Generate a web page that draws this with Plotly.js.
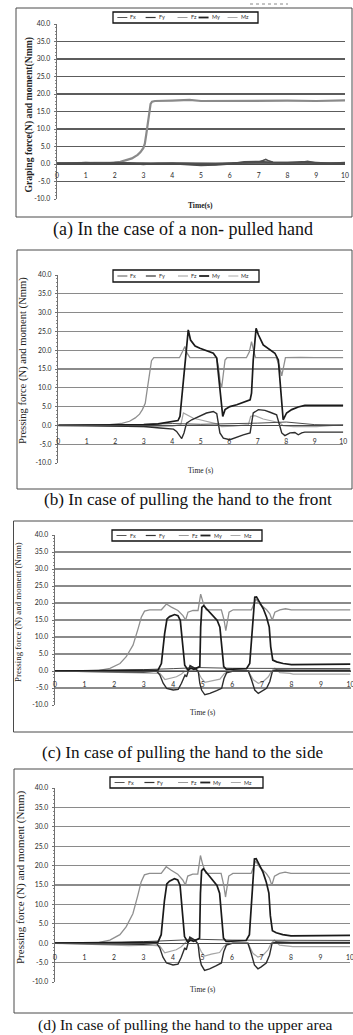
<!DOCTYPE html>
<html>
<head>
<meta charset="utf-8">
<script src="https://cdn.plot.ly/plotly-3.0.1.min.js"></script>
<style>
html,body{margin:0;padding:0;background:#ffffff;overflow:hidden;}
#chart{width:353px;height:1035px;}
</style>
</head>
<body>
<div id="chart"></div>
<script>
// ---------- shared labels ----------
const seriesNames = ['Fx','Fy','Fz','My','Mz'];
const xTickVals = [0,1,2,3,4,5,6,7,8,9,10];
const xTickLabels = ['0','1','2','3','4','5','6','7','8','9','10'];
const yTickVals = [-10,-5,0,5,10,15,20,25,30,35,40];
const yTickLabels = ['-10.0','-5.0','0.0','5.0','10.0','15.0','20.0','25.0','30.0','35.0','40.0'];
const yTitles = ['Graping force(N) and moment(Nmm)','Pressing force (N) and moment (Nmm)','Pressing force (N) and moment (Nmm)','Pressing force (N) and moment (Nmm)'];
const xTitles = ['Time(s)','Time (s)','Time (s)','Time (s)'];
const captions = ['(a) In the case of a non- pulled hand','(b) In case of pulling the hand to the front','(c) In case of pulling the hand to the side','(d) In case of pulling the hand to the upper area'];

// ---------- panel (a): non-pulled hand ----------
const aFxT = [0,0.5,1,1.5,2,2.5,3,3.5,4,4.5,5,5.5,6,6.5,7,7.5,8,8.5,9,9.5,10];
const aFxV = [0.3,0.2,0.4,0.2,0.3,0.1,0.2,0.3,0.2,0.1,0.0,-0.1,0.2,0.4,0.5,0.3,0.2,0.4,0.2,0.3,0.2];
const aFyT = [0,0.5,1,1.5,2,2.5,3,3.5,4,4.5,5,5.5,6,6.5,7,7.5,8,8.5,9,9.5,10];
const aFyV = [0.1,0.3,0.2,0.3,0.1,0.2,-0.1,0.2,0.1,-0.2,-0.4,-0.3,0.0,0.6,0.7,0.5,0.4,0.6,0.3,0.2,0.3];
const aFzT = [0,0.5,1,1.5,2,2.2,2.4,2.6,2.8,2.9,3.0,3.05,3.1,3.15,3.2,3.25,3.3,3.4,4,4.6,5,6,7,8,9,10];
const aFzV = [0.2,0.2,0.3,0.2,0.4,0.6,1.0,1.6,2.6,3.4,4.6,5.8,8.5,12,15.5,17.2,17.8,18,18.1,18.3,18,18.1,18,18.1,18,18.2];
const aMyT = [0,0.5,1,1.5,2,2.5,3,3.5,4,4.5,5,5.5,6,6.5,7,7.15,7.25,7.35,7.5,8,8.5,8.7,8.9,9,9.5,10];
const aMyV = [0.2,0.1,0.3,0.2,0.4,0.3,0.2,0.1,0.3,0.2,0.1,0.2,0.3,0.5,0.6,1.0,1.3,0.9,0.5,0.4,0.5,0.8,0.5,0.3,0.2,0.4];
const aMzT = [0,1,2,3,4,5,6,7,8,9,10];
const aMzV = [0.0,0.1,-0.1,0.0,0.1,-0.2,0.0,0.1,0.0,0.1,0.0];

// ---------- panel (b): pulled to the front ----------
const bFxT = [0,1,2,3,4,5,6,7,8,8.5,9,10];
const bFxV = [0,0.1,0,0.3,0.5,0.3,0.4,0.6,0.9,0.5,0.2,0.1];
const bFyT = [0,1,2,3,3.5,4.0,4.2,4.27,4.33,4.39,4.45,4.5,4.56,4.64,4.8,4.97,5.2,5.44,5.56,5.62,5.67,5.72,5.77,5.85,6.02,6.26,6.49,6.73,6.78,6.84,6.94,7.02,7.19,7.43,7.6,7.72,7.78,7.84,7.89,8.01,8.19,8.42,8.54,8.65,9,10];
const bFyV = [0,0,0.1,0.2,0.4,1.0,1.3,2.4,7,13,17,20.5,25.4,22.7,21.1,20.5,19.9,19.2,17.9,13,8.6,5,2.4,4.2,5.0,5.5,6.1,6.8,8.6,17.4,25.8,24.1,21.4,20.1,19.2,17.4,12,6.8,1.5,3.3,4.2,4.9,5.2,5.3,5.3,5.3];
const bFzT = [0,1,1.8,2.2,2.5,2.7,2.85,2.95,3.05,3.1,3.16,3.22,3.27,3.35,3.45,4.25,4.35,4.44,4.52,4.62,5.55,5.62,5.68,5.73,5.78,5.85,5.92,6.6,6.7,6.78,6.85,6.92,7.65,7.75,7.84,7.9,7.97,8.5,9,10];
const bFzV = [0,0.1,0.2,0.5,1.1,2.0,3.0,4.2,5.9,8.5,12,15,17.2,18,18,18,19.5,21,19.2,18,18,15.5,11.5,10,13,17.4,18,18,19.5,22.3,20,18,18,16,13.2,15.5,18,18.1,18,18];
const bMyT = [0,2,3,3.57,4.04,4.15,4.27,4.33,4.41,4.5,4.68,4.97,5.2,5.44,5.56,5.67,5.79,6.02,6.26,6.49,6.73,6.84,7.02,7.25,7.43,7.66,7.84,7.95,8.13,8.3,8.42,8.54,8.65,10];
const bMyV = [0,-0.1,-0.3,-0.7,-1.0,-1.6,-2.9,-3.5,-2.0,0.6,1.5,2.4,3.3,3.7,3.1,-2.0,-3.4,-3.8,-3.1,-2.5,-2.0,3.3,4.2,4.0,3.5,2.8,-2.0,-2.7,-2.0,-1.9,-2.5,-2.0,-1.8,-1.8];
const bMzT = [0,2,3,4.0,4.3,4.39,4.5,4.74,4.97,5.32,5.56,5.73,6.14,6.67,6.75,6.9,7.19,7.54,7.78,7.89,8.25,9.06,10];
const bMzV = [0,-0.2,-0.3,-0.2,0.2,3.3,2.8,1.9,1.5,0.8,0.4,-0.3,-0.2,0.2,2.4,2.6,1.7,1.1,0.6,-0.1,-0.3,-0.3,0.2];

// ---------- panel (c): pulled to the side ----------
const cFxT = [0,1,2,3,4,4.9,6,7,8,10];
const cFxV = [0,0.1,0.1,0.4,0.7,1.0,0.8,0.8,0.7,0.7];
const cFyT = [0,1,2,3,3.49,3.6,3.71,3.79,3.88,4.05,4.16,4.24,4.31,4.39,4.5,4.6,4.7,4.9,4.93,4.97,5.03,5.18,5.35,5.49,5.58,5.63,5.71,5.8,6.48,6.59,6.68,6.76,6.82,6.93,7.05,7.16,7.25,7.3,7.37,7.5,7.72,8.0,10];
const cFyV = [0,0.1,0.2,0.3,0.3,2.2,11,15.3,16,16.6,16.3,14.9,8.1,1.7,0.3,0.8,0.5,1.3,12.9,18.7,19.2,17.8,16.3,14.9,12.9,8.1,1.3,0.5,0.7,2.2,12.9,21.7,21.8,20.2,18.3,15.8,12.9,7.1,3.2,2.7,2.2,1.9,2.0];
const cFzT = [0,1,1.5,1.86,2.09,2.2,2.41,2.64,2.81,2.92,3.03,3.2,3.6,3.77,3.94,4.16,4.33,4.42,4.5,4.67,4.84,4.93,5.01,5.12,5.63,5.72,5.78,5.89,6.03,6.65,6.8,6.93,7.16,7.27,7.35,7.44,7.61,7.8,8.0,9,10];
const cFzV = [0,0.1,0.2,0.8,1.8,2.2,4.2,7.6,12.4,15.8,17.6,18,18,19.7,18.8,17.8,16.3,15,17.3,17.8,17.8,22.6,20.2,18,18,15,11.9,17.3,18,18,21.2,19.7,18,16.8,14.9,17.3,18,18.3,18,18,18];
const cMyT = [0,2,3,3.44,3.55,3.66,3.78,4.0,4.17,4.28,4.4,4.45,4.57,4.74,4.85,4.9,4.96,5.07,5.24,5.47,5.64,5.72,5.81,6.03,6.54,6.65,6.76,6.88,6.99,7.16,7.27,7.36,7.5,8,10];
const cMyV = [0,-0.2,-0.3,0,-1.2,-3.6,-5.1,-5.6,-5.4,-3.6,-1.2,-1.7,1.6,0.8,-0.2,-3.6,-5.6,-7.0,-6.6,-5.8,-5.1,-2.2,-0.5,0,0,-2.6,-5.6,-6.6,-6.1,-5.1,-3.1,0,0.3,0.2,0.2];
const cMzT = [0,1.8,2.5,3.2,3.55,3.72,3.89,4.11,4.28,4.45,4.57,4.79,4.96,5.07,5.3,5.58,5.72,5.86,6.54,6.71,6.88,7.05,7.22,7.33,7.44,7.61,7.95,8.06,10];
const cMzV = [0,-0.3,-0.6,-0.5,-0.7,-2.5,-2.2,-1.7,-0.9,0.5,1.3,0.5,-2.2,-3.3,-2.8,-2.4,-0.9,0,0,-2.6,-3.6,-3.1,-1.7,0,0.8,-0.5,-0.7,-0.9,-0.9];

// ---------- panel (d): pulled to the upper area (same record as (c)) ----------
const dFxT = cFxT, dFxV = cFxV, dFyT = cFyT, dFyV = cFyV, dFzT = cFzT, dFzV = cFzV;
const dMyT = cMyT, dMyV = cMyV, dMzT = cMzT, dMzV = cMzV;

const panelSeries = [
  {Fx:[aFxT,aFxV], Fy:[aFyT,aFyV], Fz:[aFzT,aFzV], My:[aMyT,aMyV], Mz:[aMzT,aMzV]},
  {Fx:[bFxT,bFxV], Fy:[bFyT,bFyV], Fz:[bFzT,bFzV], My:[bMyT,bMyV], Mz:[bMzT,bMzV]},
  {Fx:[cFxT,cFxV], Fy:[cFyT,cFyV], Fz:[cFzT,cFzV], My:[cMyT,cMyV], Mz:[cMzT,cMzV]},
  {Fx:[dFxT,dFxV], Fy:[dFyT,dFyV], Fz:[dFzT,dFzV], My:[dMyT,dMyV], Mz:[dMzT,dMzV]}
];

// ---------- geometry (pixels) ----------
const W = 353, H = 1035;
const PX = v => v / W, PY = v => 1 - v / H;
const geo = [
  {frame:[16,352,8,217],    x0:57,   x1:345,   y40:24,    ym10:199,   leg:[113,258,12,23],  ytX:28, ytS:9.7, bold:true,  xtY:205,   xtS:7.5, capY:229,  capX:183,   capS:18,   grid:'#5c5c5c', gw:1.3, xls:5},
  {frame:[17,352,250,489],  x0:58.3, x1:343.3, y40:275,   ym10:463,   leg:[113,259,270,282],ytX:23, ytS:10.6,bold:false, xtY:470.7, xtS:7.5, capY:499,  capX:188,   capS:17.2, grid:'#8a8a8a', gw:1.2, xls:9},
  {frame:[13.5,360,521,732],x0:55,   x1:350.5, y40:535,   ym10:705,   leg:[112,262,530,541],ytX:18, ytS:8.9, bold:false, xtY:712.7, xtS:7.5, capY:752,  capX:182.5, capS:17.2, grid:'#8a8a8a', gw:1.2, xls:7},
  {frame:[14,360,769,1013], x0:55,   x1:350,   y40:788,   ym10:982,   leg:[110,263,777,788],ytX:20, ytS:11,  bold:false, xtY:989,   xtS:7.5, capY:1025, capX:185.5, capS:15.5, grid:'#8a8a8a', gw:1.2, xls:8}
];

const styleA = {Fx:{c:'#575757',w:1.6}, Fy:{c:'#4c4c4c',w:1.6}, Fz:{c:'#8a8a8a',w:2.2}, My:{c:'#505050',w:1.6}, Mz:{c:'#666666',w:1.4}};
const styleN = {Fx:{c:'#4d4d4d',w:1.0}, Fy:{c:'#1a1a1a',w:1.7}, Fz:{c:'#8f8f8f',w:1.3}, My:{c:'#2d2d2d',w:1.4}, Mz:{c:'#a5a5a5',w:1.2}};
const legendStyle = {Fx:{c:'#555555',w:1}, Fy:{c:'#333333',w:1.2}, Fz:{c:'#9a9a9a',w:1}, My:{c:'#222222',w:1.8}, Mz:{c:'#aaaaaa',w:1}};
const legendOffsets = [0.03, 0.225, 0.445, 0.59, 0.79];
const drawOrder = ['Fz','Mz','Fx','My','Fy'];

const traces = [];
const layout = {
  width: W, height: H, autosize: false,
  margin: {l:0, r:0, t:0, b:0, pad:0},
  paper_bgcolor: '#ffffff', plot_bgcolor: 'rgba(0,0,0,0)',
  showlegend: false, shapes: [], annotations: []
};
const tickFont = {family:'Lato, "Liberation Sans", sans-serif', size:6.8, color:'#2a2a2a'};
const serif = 'Liberation Serif, "Times New Roman", serif';

geo.forEach((g, i) => {
  const s = i === 0 ? '' : String(i + 1);
  const zeroPx = g.y40 + 40 * (g.ym10 - g.y40) / 50;
  const st = i === 0 ? styleA : styleN;

  layout['xaxis' + s] = {
    domain: [PX(g.x0), PX(g.x1)], range: [0, 10], anchor: 'free', position: PY(zeroPx),
    tickmode: 'array', tickvals: xTickVals, ticktext: xTickLabels, tickfont: tickFont,
    ticks: '', ticklabelstandoff: g.xls, ticklabeloverflow: 'allow', showgrid: false, zeroline: false,
    showline: true, linecolor: '#4a4a4a', linewidth: 1, fixedrange: true, automargin: false
  };
  layout['yaxis' + s] = {
    domain: [PY(g.ym10), PY(g.y40)], range: [-10, 40], anchor: 'x' + s,
    tickmode: 'array', tickvals: yTickVals, ticktext: yTickLabels, tickfont: tickFont,
    ticks: 'outside', ticklen: 2.5, tickcolor: '#707070', ticklabelstandoff: 2,
    minor: {ticks: 'outside', ticklen: 1.5, dtick: 1, tick0: 0, tickcolor: '#8a8a8a', showgrid: false},
    showgrid: true, gridcolor: g.grid, gridwidth: g.gw, zeroline: false,
    showline: true, linecolor: '#707070', linewidth: 1, fixedrange: true, automargin: false
  };

  drawOrder.forEach(name => {
    const d = panelSeries[i][name];
    traces.push({
      type: 'scatter', mode: 'lines', name: name, x: d[0], y: d[1],
      xaxis: 'x' + s, yaxis: 'y' + s, hoverinfo: 'skip', showlegend: false,
      line: {color: st[name].c, width: st[name].w, shape: 'linear'}
    });
  });

  // outer frame
  layout.shapes.push({type:'rect', xref:'paper', yref:'paper', x0:PX(g.frame[0]), x1:PX(g.frame[1]), y0:PY(g.frame[3]), y1:PY(g.frame[2]), line:{color:'#4a4a4a', width:1}, fillcolor:'rgba(0,0,0,0)', layer:'above'});

  // legend box
  const [lx0, lx1, ly0, ly1] = g.leg;
  layout.shapes.push({type:'rect', xref:'paper', yref:'paper', x0:PX(lx0), x1:PX(lx1), y0:PY(ly1), y1:PY(ly0), line:{color:'#111111', width:1.3}, fillcolor:'#ffffff', layer:'above'});
  const lw = lx1 - lx0, ly = (ly0 + ly1) / 2;
  seriesNames.forEach((name, k) => {
    const sx = lx0 + legendOffsets[k] * lw;
    layout.shapes.push({type:'line', xref:'paper', yref:'paper', x0:PX(sx), x1:PX(sx + 10), y0:PY(ly), y1:PY(ly), line:{color:legendStyle[name].c, width:legendStyle[name].w}, layer:'above'});
    layout.annotations.push({xref:'paper', yref:'paper', x:PX(sx + 11), y:PY(ly), xanchor:'left', yanchor:'middle', text:name, showarrow:false, font:{family:'Lato, sans-serif', size:5.5, color:'#333333'}});
  });

  // axis titles
  layout.annotations.push({xref:'paper', yref:'paper', x:PX(g.ytX), y:PY((g.y40 + g.ym10) / 2 + (i === 0 ? 3 : -8)), xanchor:'center', yanchor:'middle', textangle:-90, text:yTitles[i], showarrow:false, font:{family:serif, size:g.ytS, color:'#222222', weight: g.bold ? 'bold' : 'normal'}});
  layout.annotations.push({xref:'paper', yref:'paper', x:PX((g.x0 + g.x1) / 2), y:PY(g.xtY), xanchor:'center', yanchor:'middle', text:xTitles[i], showarrow:false, font:{family:serif, size:g.xtS, color:'#222222', weight: g.bold ? 'bold' : 'normal'}});
  // caption
  layout.annotations.push({xref:'paper', yref:'paper', x:PX(g.capX), y:PY(g.capY), xanchor:'center', yanchor:'middle', text:captions[i], showarrow:false, font:{family:serif, size:g.capS, color:'#111111'}});
});

// small dotted mark at the very top of the picture
layout.shapes.push({type:'line', xref:'paper', yref:'paper', x0:PX(250), x1:PX(288), y0:PY(4), y1:PY(4), line:{color:'#888888', width:1, dash:'dot'}});

Plotly.newPlot('chart', traces, layout, {staticPlot: true, displayModeBar: false});
</script>
</body>
</html>
